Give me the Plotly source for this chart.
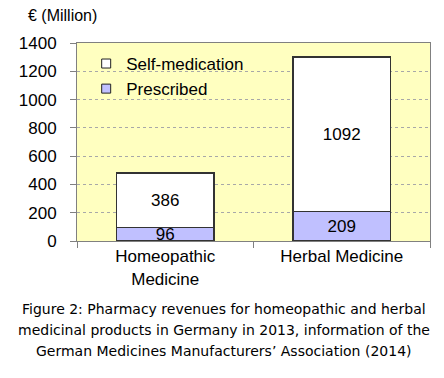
import plotly.graph_objects as go

categories = ["Homeopathic<br>Medicine", "Herbal Medicine"]
prescribed = [96, 209]
self_medication = [386, 1092]
y_ticks = [0, 200, 400, 600, 800, 1000, 1200, 1400]
series_names = ["Self-medication", "Prescribed"]
series_colors = ["white", "#C0C0FF"]
caption_lines = [
    "Figure 2: Pharmacy revenues for homeopathic and herbal",
    "medicinal products in Germany in 2013, information of the",
    "German Medicines Manufacturers’ Association (2014)",
]

FONT = "Liberation Sans, Arial"
OUTLINE = "#333333"

fig = go.Figure()
fig.add_trace(go.Bar(
    x=categories, y=prescribed, name="Prescribed", showlegend=False,
    marker=dict(color=series_colors[1], line=dict(color=OUTLINE, width=1.5)),
    text=[str(v) for v in prescribed], textposition="inside", textangle=0,
    insidetextanchor="middle", constraintext="none",
    textfont=dict(family=FONT, size=17, color="black"),
))
fig.add_trace(go.Bar(
    x=categories, y=self_medication, name="Self-medication", showlegend=False,
    marker=dict(color=series_colors[0], line=dict(color=OUTLINE, width=1.5)),
    text=[str(v) for v in self_medication], textposition="inside", textangle=0,
    insidetextanchor="middle", constraintext="none",
    textfont=dict(family=FONT, size=17, color="black"),
))
# legend entries (small squares like the reference)
for name, col in zip(series_names, series_colors):
    fig.add_trace(go.Scatter(
        x=[categories[0]], y=[None], mode="markers", name=name,
        marker=dict(symbol="square", size=9, color=col,
                    line=dict(color="#222222", width=1)),
        showlegend=True, hoverinfo="skip",
    ))

annotations = [
    dict(text="€ (Million)", xref="paper", yref="paper", x=-0.145, y=1.141,
         xanchor="left", yanchor="middle", showarrow=False,
         font=dict(family=FONT, size=16, color="black")),
]
for line, yy in zip(caption_lines, [-0.343, -0.449, -0.556]):
    annotations.append(dict(
        text=line, xref="paper", yref="paper", x=0.416, y=yy,
        xanchor="center", yanchor="middle", showarrow=False,
        font=dict(family="DejaVu Sans", size=14, color="#000000")))

fig.update_layout(
    width=444, height=378,
    barmode="stack", bargap=0.445,
    paper_bgcolor="white", plot_bgcolor="#FFFFC0",
    margin=dict(l=77, r=14, t=43, b=137),
    font=dict(family=FONT, size=17, color="black"),
    showlegend=True,
    legend=dict(x=0.026, y=0.985, xanchor="left", yanchor="top",
                traceorder="normal", bgcolor="rgba(0,0,0,0)",
                font=dict(family=FONT, size=17), itemwidth=30,
                tracegroupgap=0),
    annotations=annotations,
)
fig.update_yaxes(range=[0, 1400], tickvals=y_ticks, showgrid=True,
                 gridcolor="#A8A8A8", griddash="dot", gridwidth=1,
                 showline=True, linecolor="#808080", linewidth=1, mirror=True,
                 ticks="outside", ticklen=6, tickcolor="#808080",
                 ticklabelstandoff=10, automargin=False,
                 tickfont=dict(family=FONT, size=17), zeroline=False)
fig.update_xaxes(showline=True, linecolor="#808080", linewidth=1, mirror=True,
                 ticks="outside", tickson="boundaries", ticklen=6,
                 tickcolor="#808080", automargin=False,
                 tickfont=dict(family=FONT, size=17))

fig.write_html("out.html",
               config={"displayModeBar": False},
               post_script="document.body.style.margin='0';"
                           "document.body.style.overflow='hidden';")
